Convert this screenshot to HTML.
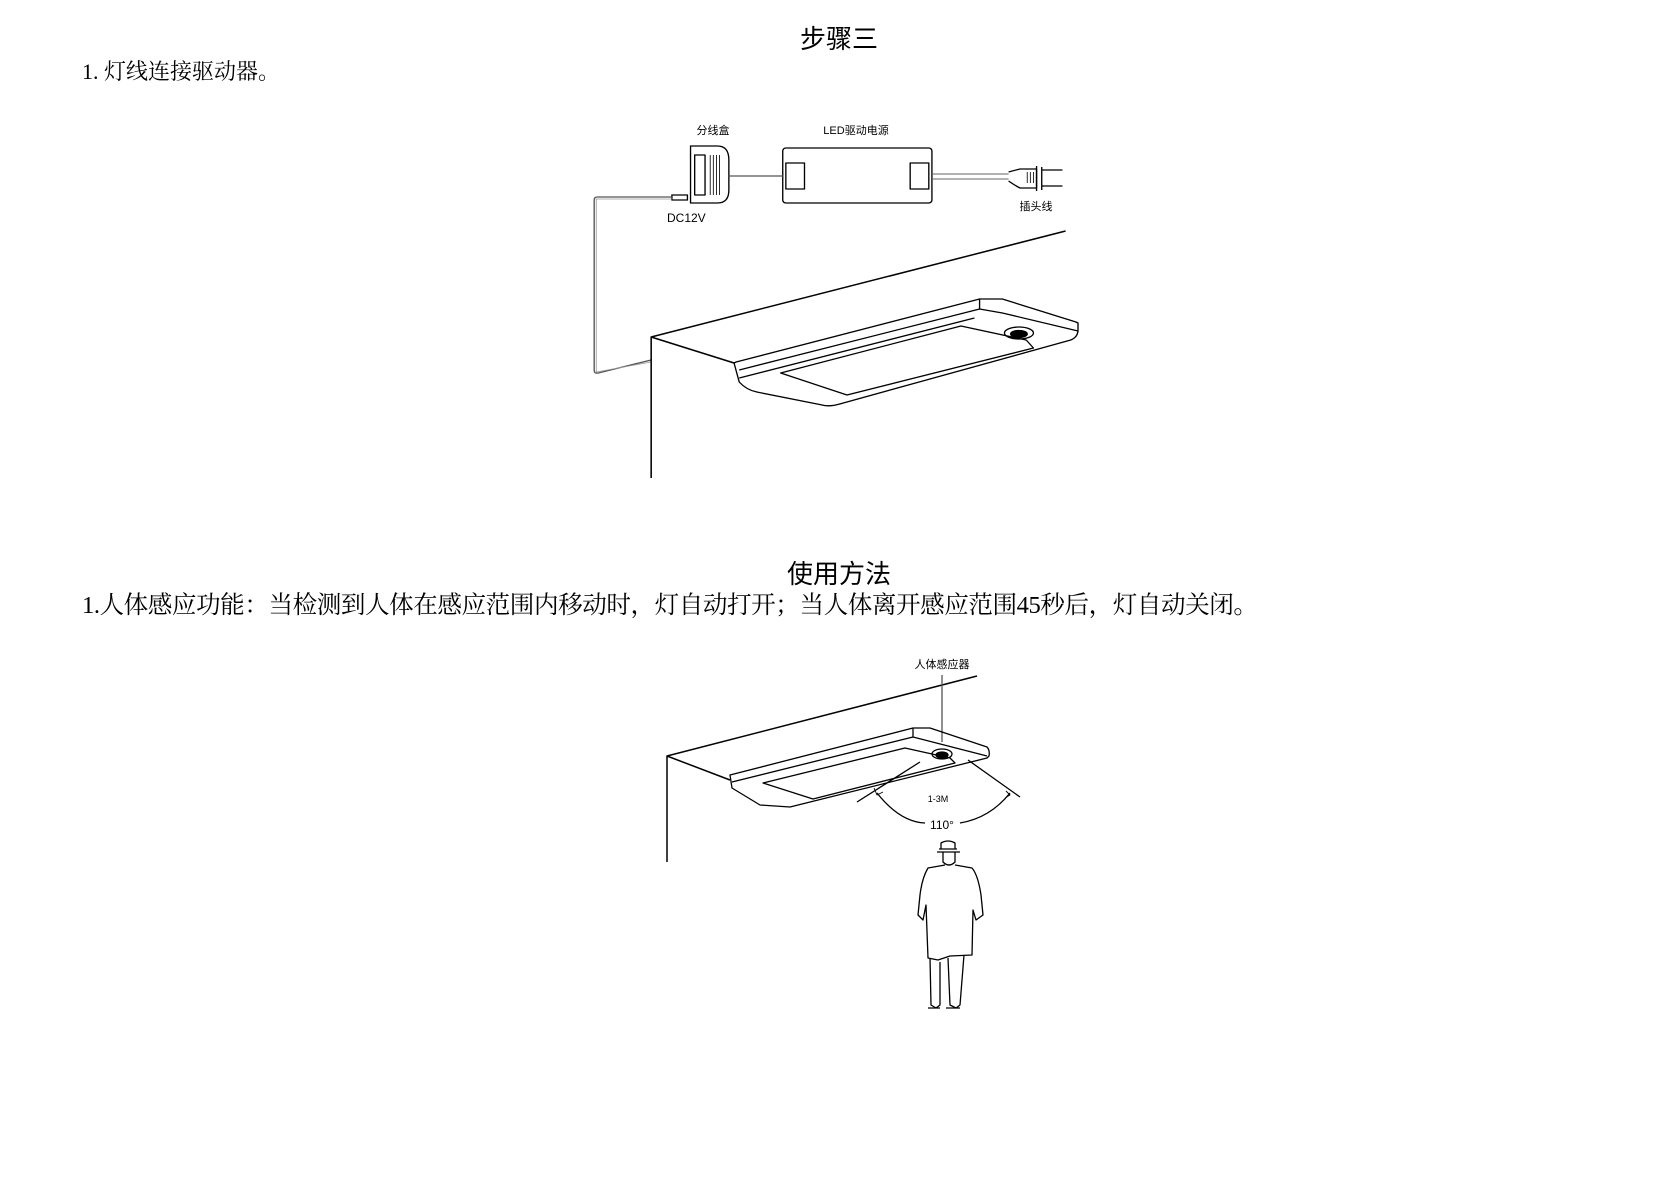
<!DOCTYPE html>
<html><head><meta charset="utf-8"><style>
html,body{margin:0;padding:0;background:#fff;}
svg{display:block;}
</style></head><body>
<svg width="1678" height="1185" viewBox="0 0 1678 1185" xmlns="http://www.w3.org/2000/svg">
<g font-family="'Liberation Sans','Noto Sans CJK SC',sans-serif" fill="#000">
<text x="839" y="48" font-size="26" text-anchor="middle">步骤三</text>
<text x="82" y="79" font-size="22" font-family="'Liberation Serif','Noto Serif CJK SC',serif">1. 灯线连接驱动器。</text>
<text x="839" y="583" font-size="26" text-anchor="middle">使用方法</text>
<text x="82" y="613" font-size="24.6" font-family="'Liberation Serif','Noto Serif CJK SC',serif" textLength="1176">1.人体感应功能：当检测到人体在感应范围内移动时，灯自动打开；当人体离开感应范围45秒后，灯自动关闭。</text>
<text x="713" y="134" font-size="11" text-anchor="middle">分线盒</text>
<text x="856" y="134" font-size="11" text-anchor="middle">LED驱动电源</text>
<text x="1036" y="210" font-size="11" text-anchor="middle">插头线</text>
<text x="667" y="222" font-size="12">DC12V</text>
<text x="942" y="668" font-size="11" text-anchor="middle">人体感应器</text>
<text x="938" y="802" font-size="9" text-anchor="middle">1-3M</text>
<text x="942" y="829" font-size="12" text-anchor="middle">110°</text>
</g>
<g fill="none" stroke="#000" stroke-width="1.3" stroke-linejoin="round" transform="translate(560,0) scale(1.036,1) translate(-560,0)">
<path d="M686,146 H712 Q723,146 723,160 V190 Q723,203 712,203 H686 Z"/>
<rect x="690" y="155" width="10" height="40"/>
<path d="M705,155 V195 M708,155 V195 M711,155 V195 M714,155 V195" stroke-width="0.8"/>
<rect x="775" y="148" width="144" height="55" rx="3"/>
<rect x="778" y="163" width="18" height="26"/>
<rect x="898" y="163" width="18" height="26"/>
<path d="M723,176 H775" stroke="#555"/>
<path d="M919,174 H993 M919,179 H993" stroke="#666" stroke-width="0.9"/>
<path d="M993,172 Q1000,170 1004,169 H1020 V188 H1004 Q1000,186 993,181"/>
<path d="M1020,166 V191 M1025,167 V190 M1025,170 H1045 M1025,186 H1045"/>
<path d="M1011,172 V183 M1014,172 V183 M1017,172 V183" stroke-width="0.8"/>
<rect x="668" y="195" width="15" height="5"/>
<path d="M668,197 H596 Q593,197 593,200 V370 Q593,374 597,373 L648,360" stroke="#555"/>
<path d="M668,199 H595 V372 L648,362" stroke="#999" stroke-width="0.8"/>
<path d="M1048,231 L648,337 V478 M648,337 L728,363" stroke-width="1.5"/>
<path d="M728,363 L733,382 Q740,390 750,392 L813,405 Q820,407 830,404 L1053,340 Q1060,337 1060,330 V323 L1058,322 L987,299 L965,299 L730,362 Z"/>
<path d="M733,370 L965,309 L987,313 L1060,331"/>
<path d="M733,378 L960,318"/>
<path d="M965,299 V309"/>
<path d="M773,373 L837,395 L1017,348 L1010,340 L947,326 Z"/>
<ellipse cx="1003" cy="333" rx="14" ry="6"/>
<ellipse cx="1003" cy="334" rx="8" ry="3.5" fill="#000"/>
</g>
<g fill="none" stroke="#000" stroke-width="1.3" stroke-linejoin="round">
<path d="M977,676 L667,756 V862 M667,756 L730,780" stroke-width="1.5"/>
<path d="M942,675 V742" stroke="#555"/>
<path d="M730,775 L913,728 L930,728 L987,747 Q990,750 989,756 L987,758 L790,807 L760,805 L732,788 Z"/>
<path d="M732,782 L913,737 L987,756"/>
<path d="M913,728 V737"/>
<path d="M763,783 L813,799 L955,763 L950,758 L905,748 Z"/>
<ellipse cx="942" cy="754" rx="10" ry="5"/>
<ellipse cx="942" cy="755" rx="6" ry="3" fill="#000"/>
<path d="M857,802 L920,762 M968,760 L1020,797"/>
<path d="M877,793 Q900,822 925,823 M960,823 Q990,818 1010,793"/>
<path d="M874,788 L877,795 L883,792 M1006,791 L1010,795 L1005,798" stroke-width="0.9"/>
<path d="M939,849 H957 M937,852 H960 M941,849 V843 Q948,839 955,843 V849"/>
<path d="M943,852 V862 Q949,868 955,862 V852"/>
<path d="M945,865 L928,868 Q922,878 920,895 L918,915 L923,920 L926,905 L928,958 L938,960 L950,956 L972,955 L973,910 L976,920 L983,915 L981,895 Q978,875 972,868 L955,865"/>
<path d="M930,958 L931,1005 L936,1008 L940,1005 L940,962 M948,958 L950,1005 L956,1008 L960,1005 L964,955"/>
<path d="M928,1008 H940 M946,1008 H960"/>
</g>
</svg>
</body></html>
